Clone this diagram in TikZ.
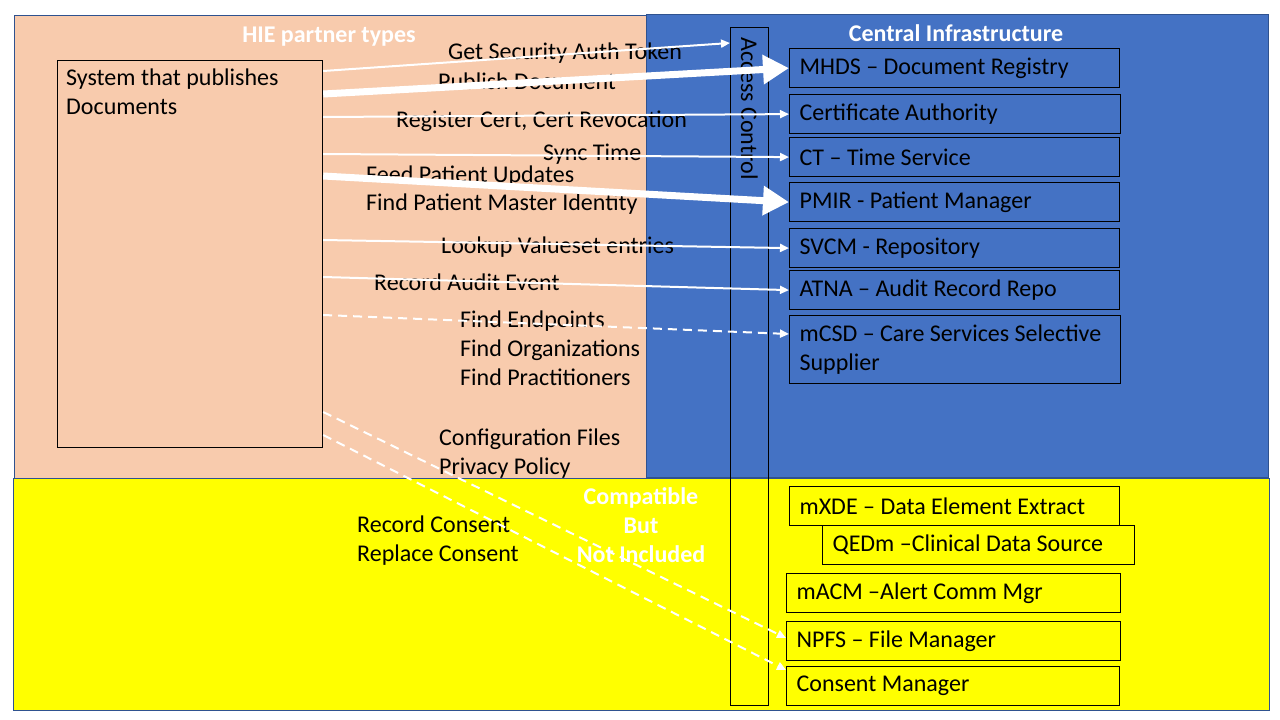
\documentclass[tikz,border=0pt]{standalone}
\usepackage{fontspec}
\setmainfont{Carlito}
\usetikzlibrary{arrows.meta}

\definecolor{peach}{HTML}{F8CBAD}
\definecolor{infrablue}{HTML}{4472C4}
\definecolor{edgeblue}{HTML}{2F528F}
\definecolor{compatyellow}{HTML}{FFFF00}

\begin{document}
\begin{tikzpicture}[
    x=1pt, y=-1pt,
    region/.style={draw=edgeblue, line width=1pt},
    svc/.style={draw=black, line width=1.2pt, anchor=north west, minimum height=39pt,
                inner xsep=10pt, inner ysep=0pt, text width=310pt, align=flush left,
                font=\fontsize{24}{29}\selectfont},
    lbl/.style={anchor=base west, inner sep=0pt, font=\fontsize{24}{29}\selectfont},
    title/.style={anchor=base, inner sep=0pt, text=white, font=\fontsize{24}{29}\selectfont\bfseries},
    flow/.style={draw=white, line width=2pt, -{Triangle[length=9pt,width=8pt]}},
    bigflow/.style={draw=white, line width=7pt, -{Triangle[length=26pt,width=28pt]}},
    optflow/.style={flow, dash pattern=on 9pt off 6pt}
]

\fill[white] (0,0) rectangle (1280,720);
\useasboundingbox (0,0) rectangle (1280,720);

%==================== Regions ====================
\draw[region, fill=peach]        (14,15)  rectangle (646,478);
\draw[region, fill=infrablue]    (646,14) rectangle (1268,477);
\draw[region, fill=compatyellow] (13,478) rectangle (1269,710);

%==================== Partner system ====================
\node[draw, line width=1.2pt, anchor=north west, minimum width=265pt, minimum height=387pt, inner sep=0pt] (pub) at (57,60) {};
\node[lbl] (publine1) at (66,85)  {System that publishes};
\node[lbl] (publine2) at (66,114) {Documents};

%==================== Access control ====================
\node[draw, line width=1.2pt, anchor=north west, minimum width=38pt, minimum height=678pt, inner sep=0pt] (acc) at (730,27) {};
\node[lbl, rotate=-90] (acctext) at (741,37) {Access Control};

%==================== Central infrastructure ====================
\node[svc] (mhds) at (789,48)  {MHDS – Document Registry};
\node[svc, text width=311pt] (cert) at (789,94) {Certificate Authority};
\node[svc] (ct)   at (789,137) {CT – Time Service};
\node[svc] (pmir) at (789,182) {PMIR - Patient Manager};
\node[svc] (svcm) at (789,228) {SVCM - Repository};
\node[svc] (atna) at (789,270) {ATNA – Audit Record Repo};
\node[svc, text width=311pt, minimum height=68pt] (mcsd) at (789,315) {mCSD – Care Services Selective\\Supplier};

%==================== Compatible but not included ====================
\node[svc] (mxde) at (789,486) {mXDE – Data Element Extract};
\node[svc, text width=292pt] (qedm) at (822,525) {QEDm –Clinical Data Source};
\node[svc, text width=314pt] (macm) at (786,573) {mACM –Alert Comm Mgr};
\node[svc, text width=314pt] (npfs) at (786,621) {NPFS – File Manager};
\node[svc, text width=313pt] (cm)   at (786,666) {Consent Manager};

%==================== Labels ====================
\node[lbl] (ltoken)   at (448,59)  {Get Security Auth Token};
\node[lbl] (lpublish) at (438,89)  {Publish Document};
\node[lbl] (lcert)    at (396,127) {Register Cert, Cert Revocation};
\node[lbl] (ltime)    at (543,160) {Sync Time};
\node[lbl] (lfeed)    at (366,182) {Feed Patient Updates};
\node[lbl] (lfind)    at (366,210) {Find Patient Master Identity};
\node[lbl] (lvalue)   at (441,253) {Lookup Valueset entries};
\node[lbl] (laudit)   at (374,290) {Record Audit Event};
\node[lbl] (lendp)    at (460,327) {Find Endpoints};
\node[lbl] (lorg)     at (460,356) {Find Organizations};
\node[lbl] (lprac)    at (460,385) {Find Practitioners};
\node[lbl] (lconf)    at (439,445) {Configuration Files};
\node[lbl] (lpriv)    at (439,474) {Privacy Policy};
\node[lbl] (lrec)     at (357,532) {Record Consent};
\node[lbl] (lrepl)    at (357,561) {Replace Consent};

%==================== Flows ====================
\draw[flow]    (pub.east |- 0,71)  -- (acc.west |- 0,43);
\draw[bigflow] (pub.east |- 0,94)  -- (mhds.west);
\draw[flow]    (pub.east |- 0,117) -- (cert.west);
\draw[flow]    (pub.east |- 0,154) -- (ct.west);
\draw[bigflow] (pub.east |- 0,176) -- (pmir.west);
\draw[flow]    (pub.east |- 0,240) -- (svcm.west);
\draw[flow]    (pub.east |- 0,277) -- (atna.west);
\draw[optflow] (pub.east |- 0,315) -- (mcsd.west |- 0,334);
\draw[optflow] (pub.east |- 0,412) -- (npfs.west |- 0,638);
\draw[optflow] (pub.east |- 0,435) -- (cm.west |- 0,670);

%==================== Titles ====================
\node[title] (tpartner) at (329,42) {HIE partner types};
\node[title] (tcentral) at (956,41) {Central Infrastructure};
\node[title] (tcompat1) at (641,504) {Compatible};
\node[title] (tcompat2) at (641,533) {But};
\node[title] (tcompat3) at (641,562) {Not Included};

\end{tikzpicture}
\end{document}
